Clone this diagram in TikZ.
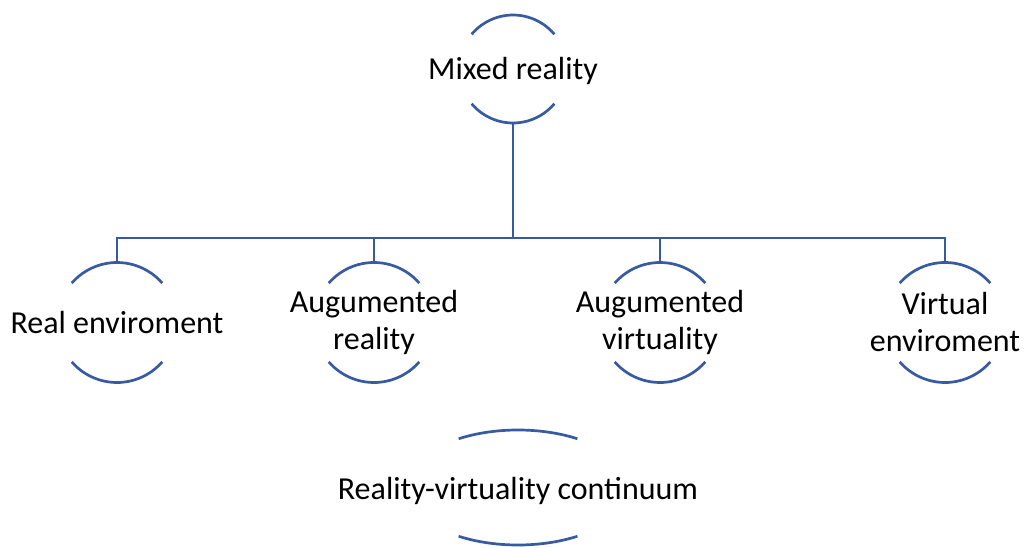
\documentclass[tikz,border=0pt]{standalone}
\usepackage{fontspec}
\setmainfont{Carlito}
\usetikzlibrary{shapes.geometric}
\definecolor{smblue}{RGB}{55,90,160}
\begin{document}
\begin{tikzpicture}[x=1pt,y=1pt,
  lbl/.style={inner sep=0pt,outer sep=0pt,align=center,font=\fontsize{32}{37}\selectfont},
  circA/.style={circle,inner sep=0pt,outer sep=0pt,minimum size=108pt},
  circB/.style={circle,inner sep=0pt,outer sep=0pt,minimum size=120pt},
  arcst/.style={draw=smblue,line width=2.7pt},
  conn/.style={draw=smblue,line width=2.7pt}]
\useasboundingbox (0,0) rectangle (1024,547);
% nodes
\node[circA] (mr) at (513,478) {};
\node[lbl] at (513,476) {Mixed reality};
\node[circB] (re) at (117,224.5) {};
\node[lbl] at (re.center) {Real enviroment};
\node[circB] (ar) at (374,224.5) {};
\node[lbl] at (ar.center) {Augumented\\reality};
\node[circB] (av) at (660,224.5) {};
\node[lbl] at (av.center) {Augumented\\virtuality};
\node[circB] (ve) at (945,224.5) {};
\node[lbl] at (ve.center) {Virtual\\enviroment};
\node[ellipse,inner sep=0pt,outer sep=0pt,minimum width=224pt,minimum height=115pt] (rv) at (518,59.5) {};
\node[lbl] at (518,56) {Reality-virtuality continuum};
% arcs
\draw[arcst] ([shift={(40:54)}]mr.center) arc[start angle=40,end angle=140,radius=54];
\draw[arcst] ([shift={(220:54)}]mr.center) arc[start angle=220,end angle=320,radius=54];
\foreach \n in {re,ar,av,ve}{
  \draw[arcst] ([shift={(41:60)}]\n.center) arc[start angle=41,end angle=139,radius=60];
  \draw[arcst] ([shift={(221:60)}]\n.center) arc[start angle=221,end angle=319,radius=60];
}
\draw[arcst] ([shift={(58:112 and 57.5)}]rv.center) arc[start angle=58,end angle=122,x radius=112,y radius=57.5];
\draw[arcst] ([shift={(238:112 and 57.5)}]rv.center) arc[start angle=238,end angle=302,x radius=112,y radius=57.5];
% connectors
\coordinate (bus) at (513,309);
\draw[conn] (mr.south) -- (bus);
\draw[conn] (bus) -| (re.north);
\draw[conn] (bus) -| (ar.north);
\draw[conn] (bus) -| (av.north);
\draw[conn] (bus) -| (ve.north);
\end{tikzpicture}
\end{document}
